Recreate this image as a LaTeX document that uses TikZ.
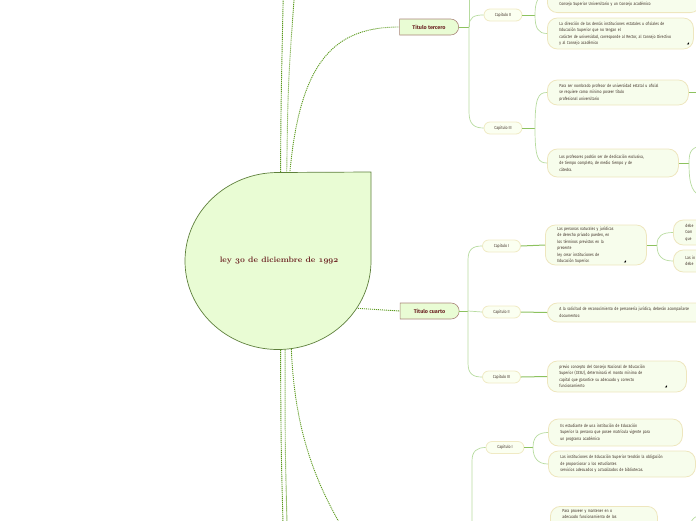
\documentclass[tikz,border=0pt]{standalone}
\usepackage{fontspec}
\newfontfamily\mapfont[FakeStretch=0.8]{Fira Sans}
\newfontfamily\titfont{Fira Sans}
\newfontfamily\symfont{DejaVu Sans}
\usetikzlibrary{shapes.misc,shapes.geometric,positioning}
\definecolor{rootbg}{HTML}{E9FCD4}
\definecolor{rootbd}{HTML}{5E7F3C}
\definecolor{titbd}{HTML}{A88478}
\definecolor{tittx}{HTML}{6E2626}
\definecolor{capbd}{HTML}{F0EAC4}
\definecolor{capbg}{HTML}{FBFFF1}
\definecolor{notebg}{HTML}{F7FDEC}
\definecolor{notebd}{HTML}{EEE6BE}
\definecolor{notetx}{HTML}{3E2F25}
\definecolor{dots}{HTML}{5C9A1E}
\definecolor{lnk}{HTML}{B7DB9F}
\definecolor{lnkdk}{HTML}{8DC25F}
\newcommand\viejos[1]{{\fontencoding{OML}\fontfamily{cmm}\fontseries{b}\fontshape{it}\selectfont #1}}
\tikzset{raiz/.style={draw=rootbd,fill=rootbg,line width=0.7pt},
  titulo/.style={rounded rectangle,rounded rectangle left arc=none,draw=titbd,fill=rootbg,line width=0.6pt,
    font=\titfont\bfseries\fontsize{5.4}{6}\selectfont,text=tittx,minimum width=59pt,minimum height=16pt,inner sep=0pt},
  capitulo/.style={rounded rectangle,draw=capbd,fill=capbg,line width=0.8pt,
    font=\mapfont\fontsize{4.4}{5}\selectfont,text=notetx,minimum width=38pt,minimum height=12pt,inner sep=0pt},
  nota/.style={draw=notebd,fill=notebg,line width=0.8pt,rounded corners=10pt,align=left,anchor=west,
    font=\mapfont\fontsize{4.4}{6.5}\selectfont,text=notetx,inner xsep=12pt,inner ysep=0pt},
  icono/.style={font=\symfont\fontsize{3}{3}\selectfont,inner sep=0pt},
  rama/.style={draw=lnk,line width=0.7pt},
  tallo/.style={draw=lnkdk,line width=1pt},
  punteado/.style={draw=dots,line width=0.9pt,dash pattern=on 1.1pt off 0.9pt}}
\begin{document}
\begin{tikzpicture}[x=1pt,y=-1pt]
\useasboundingbox (0,0) rectangle (696,520);
% raiz
\draw[raiz] (371,172) -- (371,261) arc[start angle=0,end angle=270,x radius=93,y radius=88.5] -- cycle;
\node[ellipse,minimum width=186pt,minimum height=177pt,font=\fontsize{7.9}{9}\selectfont\bfseries,text=tittx] (ley) at (279,261) {ley \viejos{30} de diciembre de \viejos{1992}};
\node[titulo] (tercero) at (429,27) {Titulo tercero};
\node[titulo] (cuarto) at (429.5,311) {Titulo cuarto};
\coordinate (arr1) at (284,-40); \coordinate (arr2) at (297,-40);
\coordinate (aba1) at (284,560); \coordinate (aba2) at (288,560); \coordinate (aba3) at (370,570);
\draw[punteado] (ley.89) .. controls (281,100) .. (arr1);
\draw[punteado] (ley.85) .. controls (288,80) .. (arr2);
\draw[punteado] (ley.83) .. controls (300,60) and (335,27) .. (tercero.west);
\draw[punteado] (ley.-31) -- (cuarto.west);
\draw[punteado] (ley.-89) .. controls (281,450) .. (aba1);
\draw[punteado] (ley.-86) .. controls (285,450) .. (aba2);
\draw[punteado] (ley.-82) .. controls (295,440) and (320,500) .. (aba3);
% capitulos
\node[capitulo] (t3c2) at (503,15) {Capitulo II};
\node[capitulo] (t3c3) at (503,128) {Capitulo III};
\node[capitulo] (t4c1) at (501.5,246) {Capitulo I};
\node[capitulo] (t4c2) at (501.5,312) {Capitulo II};
\node[capitulo] (t4c3) at (501.5,377) {Capitulo III};
\node[capitulo] (t5c1) at (505,447.5) {Capitulo I};
% notas
\node[nota,text width=129pt,anchor=south west,text height=30pt,text depth=7pt] (n32a) at (547,13) {Consejo Superior Universitario y un Consejo académico};
\node[nota,text width=122pt,minimum height=31pt] (n32b) at (547,33.5) {La dirección de las demás instituciones estatales u oficiales de\\Educación Superior que no tengan el\\carácter de universidad, corresponde al Rector, al Consejo Directivo\\y al Consejo académico};
\node[nota,text width=117pt,minimum height=25pt] (n33a) at (547,92.5) {Para ser nombrado profesor de universidad estatal u oficial\\se requiere como mínimo poseer título\\profesional universitario};
\node[nota,text width=107pt,minimum height=28pt] (n33b) at (547,163) {Los profesores podrán ser de dedicación exclusiva,\\de tiempo completo, de medio tiempo y de\\cátedra.};
\node[nota,text width=77pt,minimum height=40pt] (n41) at (545,245) {Las personas naturales y jurídicas\\de derecho privado pueden, en\\los términos previstos en la\\presente\\ley crear instituciones de\\Educación Superior.};
\node[nota,text width=40pt,minimum height=25pt] (n41a) at (673,232.5) {debe\\Com\\que};
\node[nota,text width=40pt,minimum height=22pt] (n41b) at (673,261) {Las in\\debe};
\node[nota,text width=160pt,minimum height=19pt] (n42) at (547,312.5) {A la solicitud de reconocimiento de personería jurídica, deberán acompañarse\\documentos:};
\node[nota,text width=115pt,minimum height=31pt] (n43) at (547,376.5) {previo concepto del Consejo Nacional de Educación\\Superior (CESU), determinará el monto mínimo de\\capital que garantice su adecuado y correcto\\funcionamiento};
\node[nota,text width=110pt,minimum height=27pt] (n51a) at (548,432.5) {Es estudiante de una institución de Educación\\Superior la persona que posee matrícula vigente para\\un programa académico};
\node[nota,text width=123pt,minimum height=26pt] (n51b) at (548,464) {Las instituciones de Educación Superior tendrán la obligación\\de proporcionar a los estudiantes\\servicios adecuados y actualizados de bibliotecas.};
\node[nota,text width=83pt,anchor=north west,inner ysep=3pt,text depth=30pt] (n52) at (550,506) {Para proveer y mantener en o\\adecuado funcionamiento de los};
\node[icono] (i32b) at (688,43.5) {◢};
\node[icono] (i41) at (625,262) {◢};
\node[icono] (i43) at (666,387) {◢};
% titulo tercero
\coordinate (k3) at (469,27); \coordinate (k3arr) at (469,-30);
\draw[tallo] (tercero.east) -- (k3);
\draw[rama] (k3) -- (k3arr);
\draw[rama] (k3) .. controls (469,17) and (474,15) .. (t3c2.west);
\draw[rama] (k3) -- (469,112) .. controls (469,124) and (474,128) .. (t3c3.west);
\coordinate (k32) at (535,15);
\draw[tallo] (t3c2.east) -- (k32);
\draw[rama] (k32) .. controls (535,2) and (538,-5.5) .. (n32a.west);
\draw[rama] (k32) .. controls (535,28) and (538,33.5) .. (n32b.west);
\coordinate (k33) at (535,128);
\draw[tallo] (t3c3.east) -- (k33);
\draw[rama] (k33) .. controls (535,98) and (538,92.5) .. (n33a.west);
\draw[rama] (k33) .. controls (535,158) and (538,163) .. (n33b.west);
\coordinate (s33a) at (705,92.5);
\draw[tallo] (n33a.east) -- (s33a);
\coordinate (k33b) at (689,163); \coordinate (s33b1) at (705,145); \coordinate (s33b2) at (705,197);
\draw[tallo] (n33b.east) -- (k33b);
\draw[rama] (k33b) .. controls (689,150) and (692,147) .. (s33b1);
\draw[rama] (k33b) .. controls (689,185) and (692,195) .. (s33b2);
% titulo cuarto
\coordinate (k4) at (468,311);
\draw[tallo] (cuarto.east) -- (k4);
\draw[rama] (k4) -- (468,260) .. controls (468,249) and (473,246) .. (t4c1.west);
\draw[rama] (k4) -- (t4c2.west);
\draw[rama] (k4) -- (468,363) .. controls (468,374) and (473,377) .. (t4c3.west);
\draw[tallo] (t4c1.east) -- (n41.west);
\coordinate (k41) at (657,245);
\draw[tallo] (n41.east) -- (k41);
\draw[rama] (k41) .. controls (657,236) and (662,232.5) .. (n41a.west);
\draw[rama] (k41) .. controls (657,256) and (662,261) .. (n41b.west);
\draw[tallo] (t4c2.east) -- (n42.west);
\draw[tallo] (t4c3.east) -- (n43.west);
% abajo
\coordinate (k5abj) at (472,540);
\draw[rama] (k5abj) -- (472,461) .. controls (472,451) and (477,447.5) .. (t5c1.west);
\coordinate (k51) at (533,447.5);
\draw[tallo] (t5c1.east) -- (k51);
\draw[rama] (k51) .. controls (533,437) and (538,432.5) .. (n51a.west);
\draw[rama] (k51) .. controls (533,458) and (538,464) .. (n51b.west);
\coordinate (k52) at (690,530); \coordinate (s52) at (705,514);
\draw[tallo] (n52.east) -- (k52);
\draw[rama] (k52) .. controls (690,520) and (693,516) .. (s52);
\end{tikzpicture}
\end{document}
